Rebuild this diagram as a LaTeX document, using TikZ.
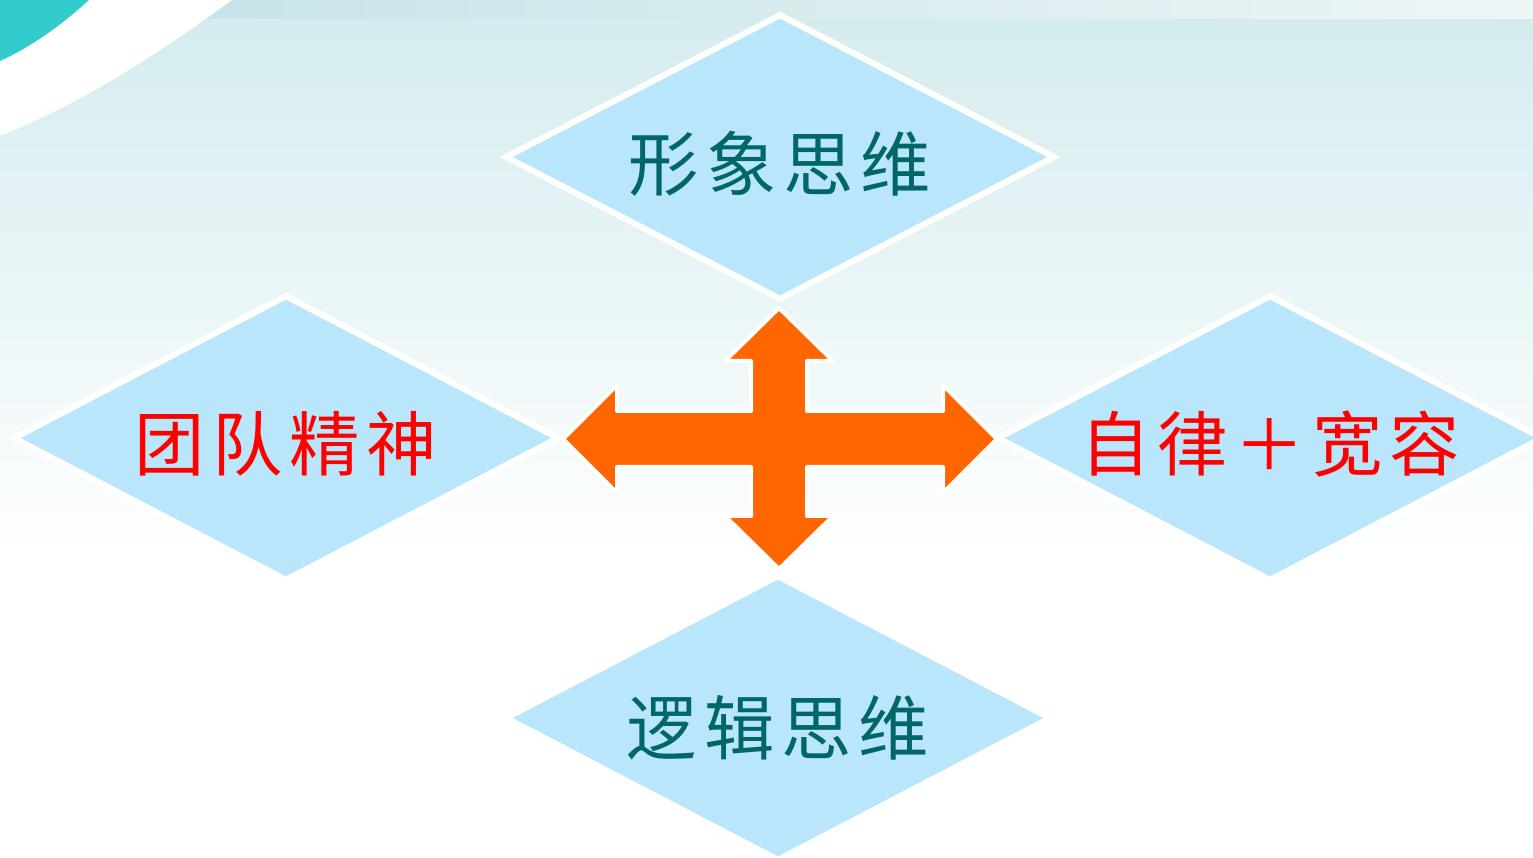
\documentclass[tikz,border=0pt]{standalone}
\usepackage{fontspec}
\newfontfamily\cjk[LetterSpace=10]{Noto Sans CJK SC}
\usetikzlibrary{shapes.geometric, positioning}

\definecolor{diafill}{HTML}{B9E6FB}
\definecolor{bgtop}{HTML}{D5ECEF}
\definecolor{stripleft}{HTML}{C0E2E5}
\definecolor{stripright}{HTML}{EEF5F7}
\definecolor{cornerteal}{HTML}{33CCCC}
\definecolor{arroworange}{HTML}{FF6600}
\definecolor{textteal}{HTML}{006666}

\newcommand{\dialabel}[2]{\raisebox{#1}[0pt][0pt]{#2}}

\begin{document}
\begin{tikzpicture}[
    x=0.01cm, y=-0.01cm,
    diamondbox/.style={diamond, aspect=2, draw=white, line width=0.06cm, fill=diafill, inner sep=0pt,
        minimum width=5.46cm, minimum height=2.86cm, font=\cjk\fontsize{20}{20}\selectfont},
    teallabel/.style={text=textteal},
    redlabel/.style={text=red},
    crossarrow/.style={draw=white, line width=0.04cm, fill=arroworange, line join=round}
]
    \useasboundingbox (0,0) rectangle (1533,858);

    % Background
    \fill[white] (0,0) rectangle (1533,858);
    \fill[top color=bgtop, bottom color=white] (0,19) rectangle (1533,560);
    \fill[left color=stripleft, right color=stripright] (0,0) rectangle (1533,19);
    \fill[white] (0,0) -- (232,0) .. controls (170,45) and (90,100) .. (0,136) -- cycle;
    \fill[cornerteal] (0,0) -- (89,0) .. controls (65,22) and (35,45) .. (0,61) -- cycle;

    % Diamonds
    \node (image) [diamondbox, teallabel, minimum width=5.5cm] at (780,157) {\dialabel{-0.33cm}{形象思维}};
    \node (team) [diamondbox, redlabel] at (286,438) {\dialabel{-0.32cm}{团队精神}};
    \node (discipline) [diamondbox, redlabel] at (1270,438) {\dialabel{-0.32cm}{自律＋宽容}};
    \node (logic) [diamondbox, teallabel] at (778,718) {\dialabel{-0.36cm}{逻辑思维}};

    % Four-way arrow
    \draw[crossarrow] (779,308) -- (833,361) -- (807,361) -- (807,411) -- (943,411) -- (943,385)
        -- (997,439) -- (943,493) -- (943,467) -- (807,467) -- (807,516) -- (833,516)
        -- (779,569) -- (725,516) -- (751,516) -- (751,467) -- (617,467) -- (617,493)
        -- (563,439) -- (617,385) -- (617,411) -- (751,411) -- (751,361) -- (725,361) -- cycle;

\end{tikzpicture}
\end{document}
